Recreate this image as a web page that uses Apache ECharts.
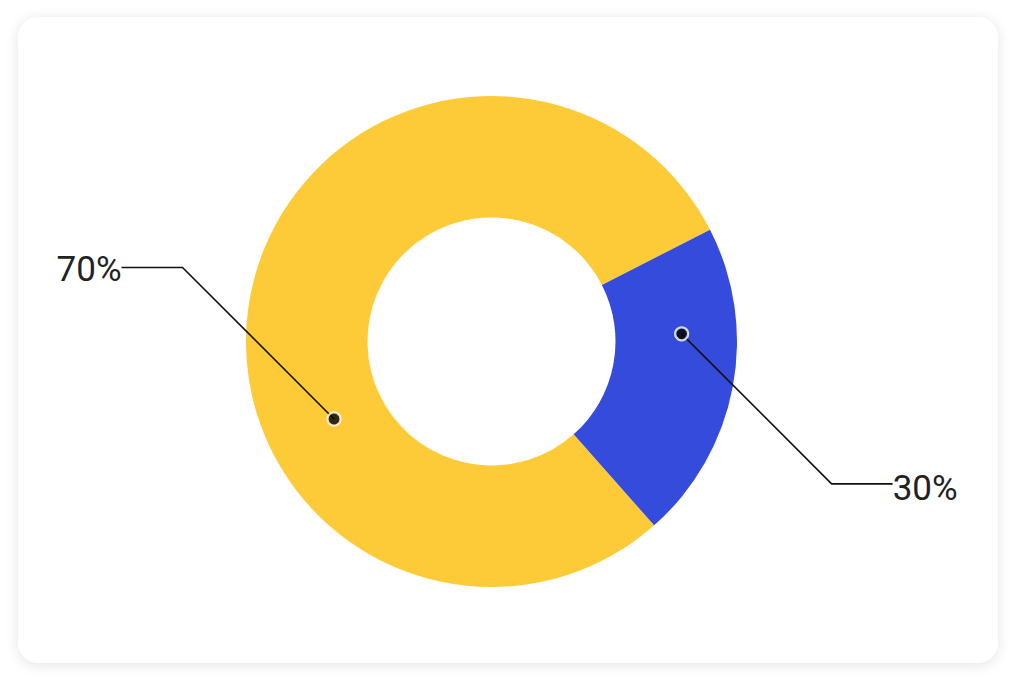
<!DOCTYPE html>
<html>
<head>
<meta charset="utf-8">
<script src="https://cdn.jsdelivr.net/npm/echarts@6/dist/echarts.min.js"></script>
<style>
  html, body { margin: 0; padding: 0; width: 1016px; height: 682px; background: #ffffff; overflow: hidden; }
  #card { position: absolute; left: 18px; top: 17px; width: 980px; height: 646px; border-radius: 20px;
          background: #ffffff; box-shadow: 0 2px 14px rgba(0,0,0,0.11); }
  #chart { position: absolute; left: 0; top: 0; width: 1016px; height: 682px; }
</style>
</head>
<body>
<div id="card"></div>
<div id="chart"></div>
<script>
// ---- data ----
const categories = ['Segment A', 'Segment B'];
const sliceValues = [79, 21];
const labelTexts = ['70%', '30%'];

// ---- layout / style config ----
const PIE = { cx: 491.5, cy: 341.5, inner: 124, outer: 245.5, startAngle: 311.5 };
const COLORS = ['#FECB38', '#354BDC'];
// leader anchors: polar position (px radius, math angle) + leg geometry
const LEADERS = [
  { r: 175.5, angle: 206.2, diag: 151.5, dir: -1, run: 61, dy: 2 },
  { r: 190.3, angle: 2.3, diag: 150, dir: 1, run: 61, dy: 5 }
];

function anchorPoint(i) {
  const L = LEADERS[i];
  const a = L.angle * Math.PI / 180;
  return [PIE.cx + L.r * Math.cos(a), PIE.cy - L.r * Math.sin(a)];
}

const chart = echarts.init(document.getElementById('chart'), null, { renderer: 'svg' });

const pieData = categories.map((c, i) => ({ name: c, value: sliceValues[i], itemStyle: { color: COLORS[i] } }));

const option = {
  animation: false,
  backgroundColor: 'transparent',
  polar: { center: [PIE.cx, PIE.cy], radius: PIE.outer },
  angleAxis: { type: 'value', min: 0, max: 360, startAngle: 0, clockwise: false, show: false,
               splitLine: { show: false }, axisLine: { show: false } },
  radiusAxis: { type: 'value', min: 0, max: PIE.outer, show: false, splitLine: { show: false } },
  series: [
    {
      type: 'pie',
      center: [PIE.cx, PIE.cy],
      radius: [PIE.inner, PIE.outer],
      startAngle: PIE.startAngle,
      clockwise: true,
      avoidLabelOverlap: false,
      z: 2,
      silent: true,
      itemStyle: { borderWidth: 0 },
      label: { show: false },
      labelLine: { show: false },
      data: pieData
    },
    {
      // transparent overlay pie carrying the labels so that leader lines sit above the ring
      type: 'pie',
      center: [PIE.cx, PIE.cy],
      radius: [PIE.inner, PIE.outer],
      startAngle: PIE.startAngle,
      clockwise: true,
      avoidLabelOverlap: false,
      z: 4,
      silent: true,
      itemStyle: { color: 'rgba(0,0,0,0)', borderWidth: 0 },
      data: categories.map((c, i) => ({ name: c, value: sliceValues[i] })),
      label: {
        show: true,
        position: 'outside',
        formatter: (p) => labelTexts[p.dataIndex],
        fontFamily: 'Roboto',
        fontSize: 35,
        color: '#222222'
      },
      labelLine: { show: true, length: 10, length2: 10, lineStyle: { color: '#111111', width: 1.6 } },
      labelLayout: function (params) {
        const i = params.dataIndex;
        const L = LEADERS[i];
        const p0 = anchorPoint(i);
        const p1 = [p0[0] + L.dir * L.diag, p0[1] + L.dir * L.diag];
        const p2 = [p1[0] + L.dir * L.run, p1[1]];
        return {
          x: p2[0],
          y: p2[1] + L.dy,
          align: L.dir < 0 ? 'right' : 'left',
          verticalAlign: 'middle',
          labelLinePoints: [p0, p1, p2]
        };
      }
    },
    {
      type: 'scatter',
      coordinateSystem: 'polar',
      z: 6,
      symbol: 'circle',
      symbolSize: 13,
      silent: true,
      itemStyle: { color: '#000000', borderColor: '#ffffff', borderWidth: 2.2 },
      data: LEADERS.map(L => [L.r, L.angle])
    }
  ]
};
chart.setOption(option);
</script>
</body>
</html>
